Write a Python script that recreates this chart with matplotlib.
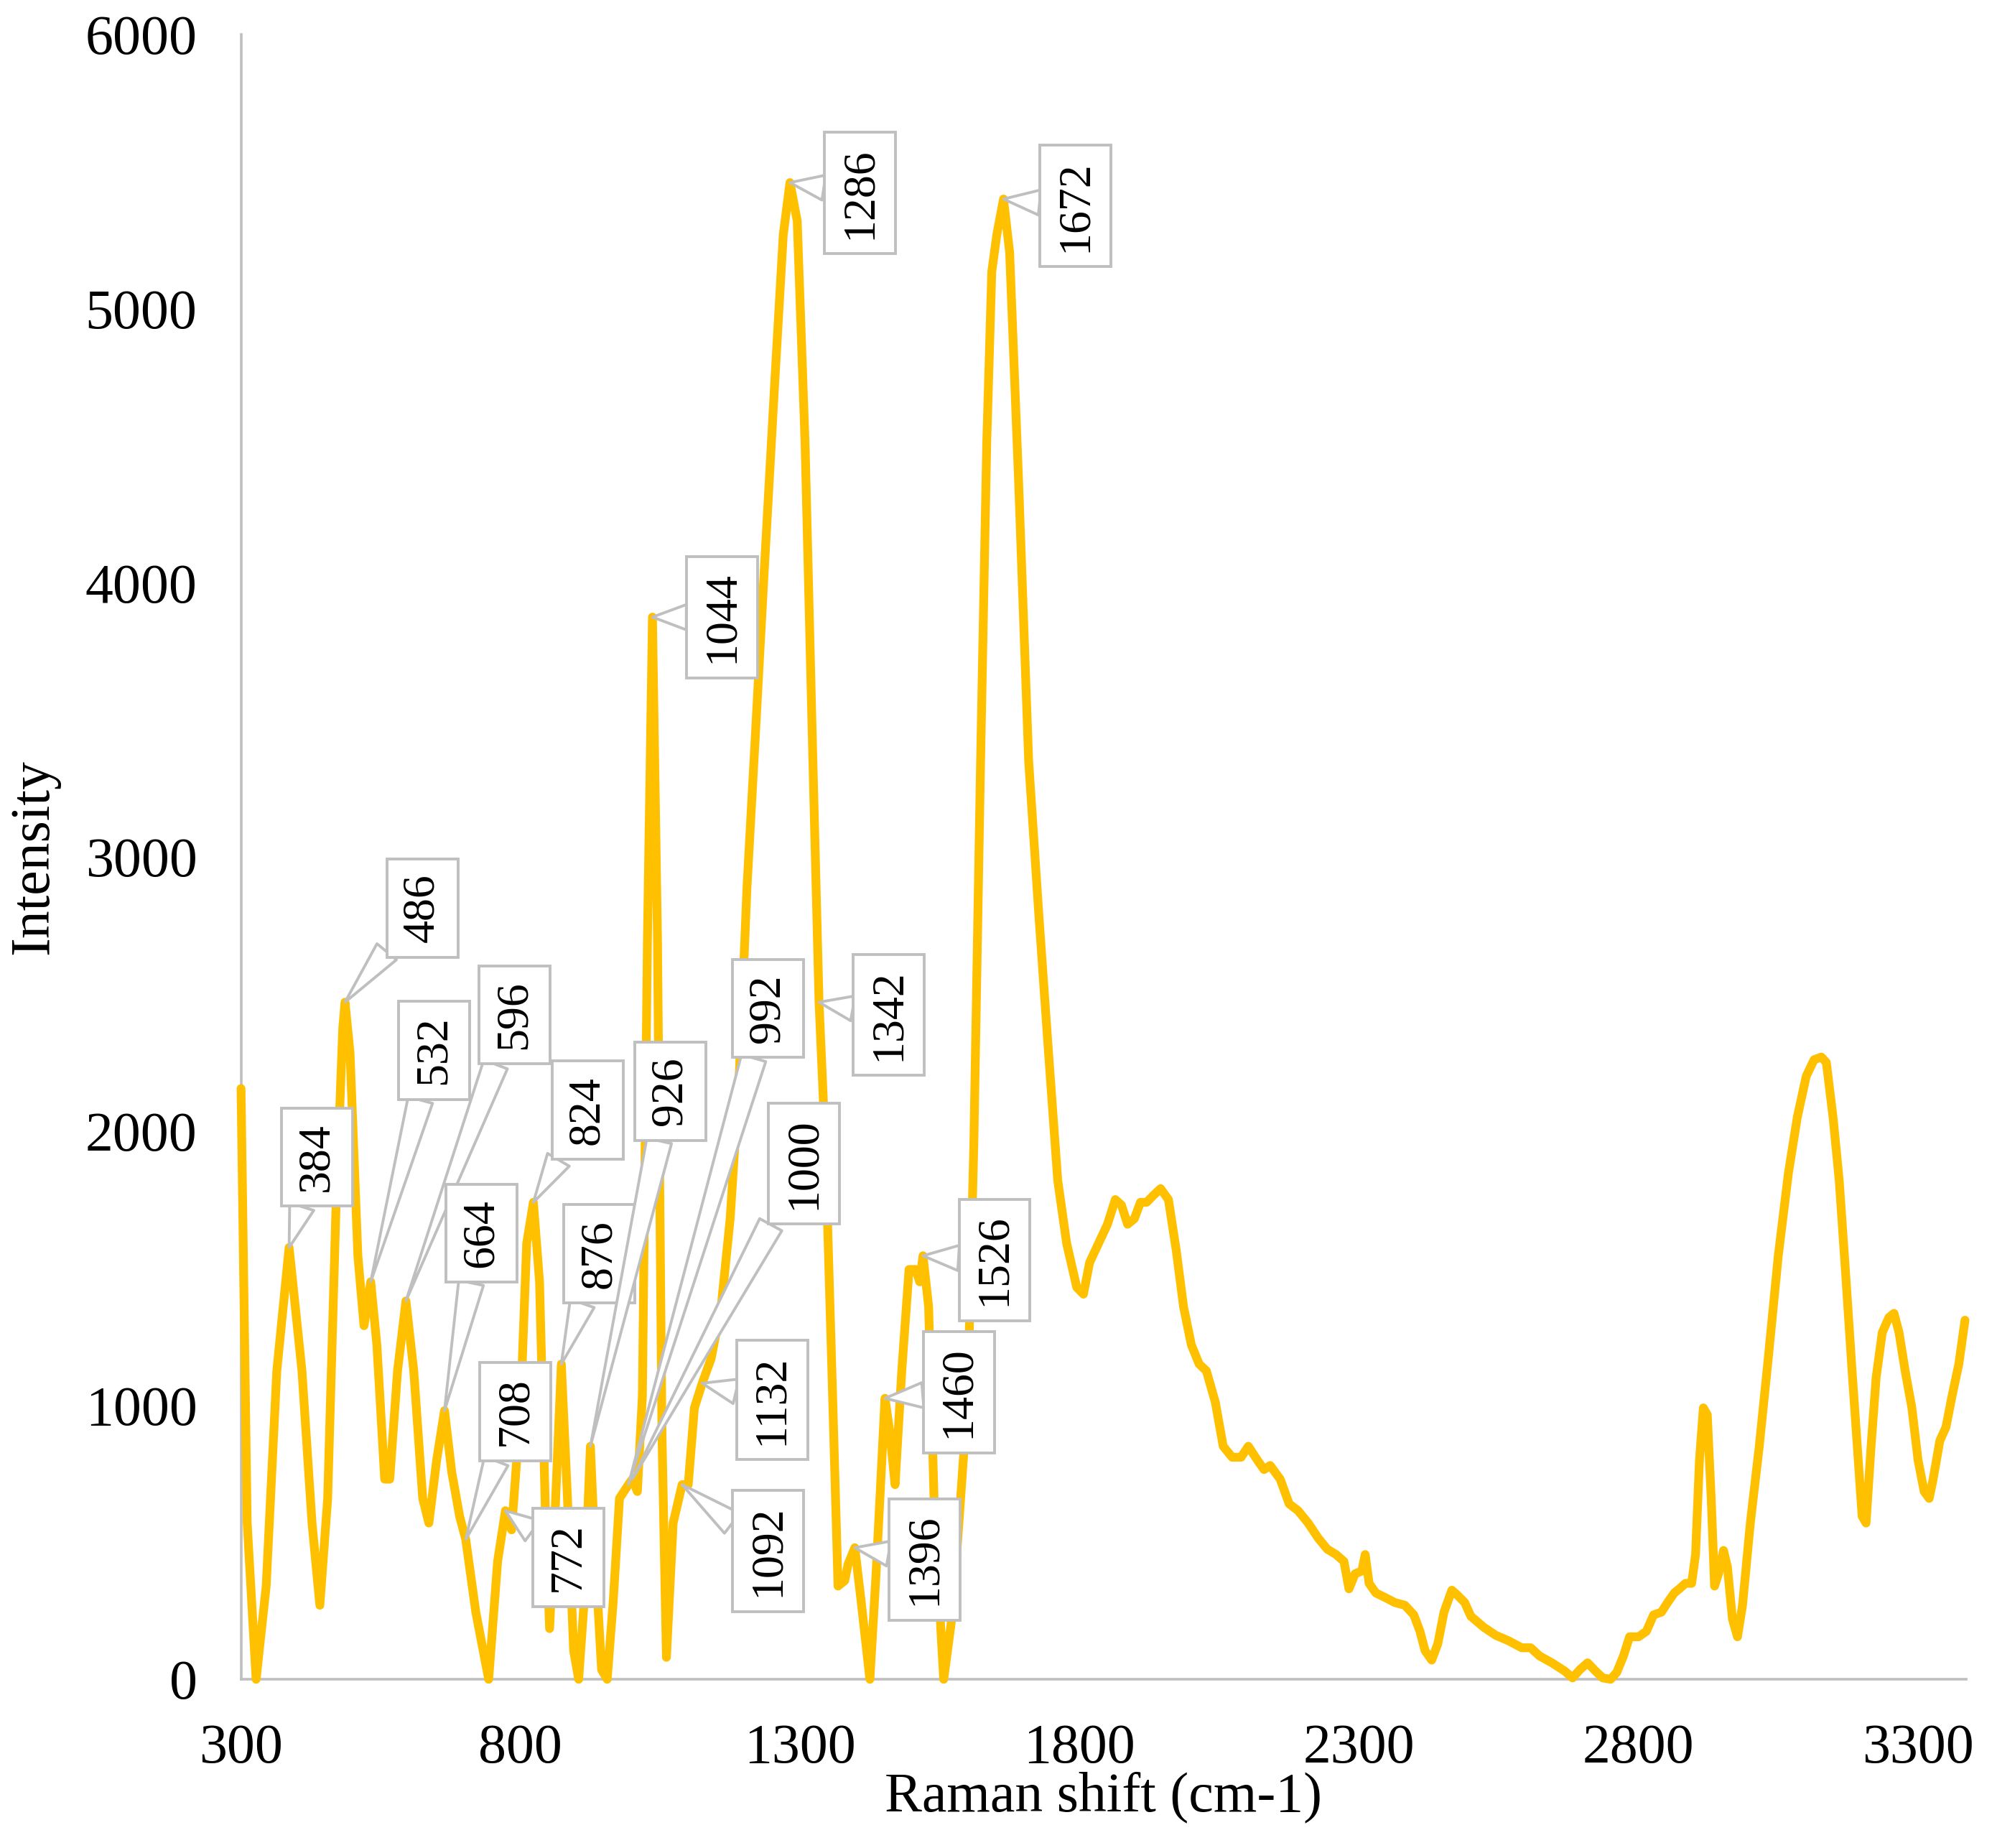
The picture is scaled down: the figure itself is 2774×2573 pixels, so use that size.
import matplotlib.pyplot as plt
import numpy as np

plt.rcParams['font.family'] = ['Liberation Serif', 'DejaVu Serif']

# Raman spectrum
shift = [300, 311, 327, 345, 364, 386, 409, 427, 441, 455, 470, 482, 486, 495, 509, 520, 532, 543, 557, 566,
         580, 595, 609, 625, 636, 650, 664, 677, 691, 702, 720, 743, 759, 773, 784, 800, 811, 823, 834, 845,
         852, 861, 873, 884, 895, 904, 914, 925, 934, 945, 955, 966, 977, 993, 1000, 1009, 1018, 1027, 1036, 1045,
         1053, 1061, 1073, 1089, 1100, 1111, 1125, 1141, 1159, 1175, 1191, 1205, 1220, 1236, 1255, 1270, 1282, 1295, 1309, 1323,
         1334, 1345, 1357, 1368, 1380, 1386, 1398, 1409, 1425, 1436, 1452, 1461, 1470, 1482, 1495, 1507, 1514, 1520, 1530, 1541,
         1557, 1573, 1589, 1600, 1611, 1623, 1634, 1643, 1652, 1664, 1675, 1691, 1709, 1727, 1743, 1761, 1777, 1795, 1807, 1818,
         1834, 1850, 1864, 1875, 1886, 1898, 1909, 1920, 1932, 1945, 1959, 1973, 1986, 2000, 2014, 2027, 2043, 2057, 2073, 2089,
         2102, 2118, 2130, 2141, 2159, 2175, 2191, 2209, 2227, 2243, 2259, 2273, 2282, 2293, 2305, 2311, 2318, 2330, 2345, 2364,
         2382, 2398, 2409, 2418, 2430, 2441, 2452, 2466, 2477, 2489, 2500, 2523, 2545, 2568, 2591, 2607, 2623, 2645, 2668, 2682,
         2695, 2709, 2723, 2736, 2750, 2761, 2773, 2784, 2800, 2814, 2827, 2841, 2852, 2864, 2873, 2884, 2895, 2902, 2909, 2916,
         2923, 2930, 2936, 2943, 2952, 2959, 2968, 2977, 2986, 3000, 3016, 3032, 3050, 3068, 3084, 3100, 3114, 3127, 3136, 3148,
         3159, 3170, 3182, 3193, 3200, 3207, 3216, 3225, 3236, 3248, 3257, 3266, 3277, 3289, 3300, 3311, 3320, 3327, 3339, 3350,
         3361, 3373, 3384]
intensity = [2155, 570, 0, 340, 1125, 1575, 1125, 570, 270, 660, 1730, 2375, 2470, 2285, 1545, 1290, 1450, 1220, 730, 730,
             1125, 1380, 1125, 660, 570, 800, 980, 755, 595, 510, 245, 0, 430, 615, 545, 990, 1590, 1740, 1450, 570,
             185, 570, 1150, 660, 105, 0, 290, 850, 430, 35, 0, 290, 660, 710, 730, 685, 1035, 2700, 3875, 2700,
             900, 80, 570, 710, 710, 990, 1080, 1170, 1360, 1680, 2190, 2885, 3440, 4045, 4740, 5270, 5460, 5320, 4510, 3350,
             2470, 1960, 1125, 340, 360, 420, 480, 290, 0, 385, 1025, 895, 710, 1125, 1495, 1495, 1450, 1545, 1360, 570,
             0, 245, 710, 1035, 1960, 3350, 4510, 5135, 5270, 5400, 5205, 4370, 3350, 2795, 2330, 1820, 1590, 1430, 1405, 1520,
             1590, 1660, 1750, 1730, 1660, 1680, 1740, 1740, 1765, 1790, 1750, 1565, 1360, 1220, 1150, 1125, 1010, 850, 810, 810,
             850, 800, 765, 780, 730, 640, 615, 570, 515, 475, 455, 430, 330, 385, 395, 455, 350, 315, 300, 280,
             270, 235, 175, 105, 70, 130, 245, 325, 305, 280, 230, 190, 160, 140, 115, 115, 85, 60, 30, 5,
             35, 60, 30, 5, 0, 25, 85, 155, 155, 175, 235, 245, 280, 315, 330, 350, 350, 455, 800, 990,
             965, 660, 340, 385, 470, 410, 220, 155, 270, 570, 850, 1170, 1545, 1845, 2050, 2200, 2260, 2270, 2250, 2050,
             1820, 1495, 1125, 800, 595, 570, 850, 1100, 1265, 1320, 1335, 1265, 1125, 990, 800, 685, 660, 730, 870, 920,
             1035, 1150, 1310]

# labelled peaks: text and where on the spectrum each callout points
peak_labels = ['384', '486', '532', '596', '664', '708', '772', '824', '876', '926', '992', '1000', '1044',
               '1092', '1132', '1286', '1342', '1396', '1460', '1526', '1672']
peak_x = [386, 486, 532, 595, 664, 702, 773, 823, 873, 925, 993, 1000, 1036,
          1089, 1125, 1282, 1334, 1398, 1452, 1520, 1664]
# callout box centres (layout)
box_xy = [(436, 1905), (625, 2813), (645, 2294), (789, 2424), (730, 1627), (791, 977), (886, 445), (920, 2076),
          (941, 1552), (1068, 2145), (1243, 2447), (1307, 1881), (1161, 3874), (1243, 468), (1250, 1019),
          (1407, 5422), (1459, 2424), (1523, 436), (1584, 1047), (1648, 1529), (1793, 5375)]

x_ticks = [300, 800, 1300, 1800, 2300, 2800, 3300]
y_ticks = [0, 1000, 2000, 3000, 4000, 5000, 6000]

fig = plt.figure(figsize=(13.87, 12.865), dpi=200)
ax = fig.add_axes([0.121, 0.0913, 0.866, 0.890])

ax.plot(shift, intensity, color='#FFC000', linewidth=4.4, solid_joinstyle='round',
        solid_capstyle='round', clip_on=False, zorder=3)

grey = '#BFBFBF'
for lab, px, (bx, by) in zip(peak_labels, peak_x, box_xy):
    py = np.interp(px, shift, intensity)
    ax.annotate(lab, xy=(px, py), xytext=(bx, by), textcoords='data',
                rotation=90, ha='center', va='center', fontsize=23, zorder=5,
                bbox=dict(boxstyle='square,pad=0.32', fc='white', ec=grey, lw=1.4),
                arrowprops=dict(arrowstyle='wedge,tail_width=0.55,shrink_factor=0.5',
                                fc='white', ec=grey, lw=1.4, shrinkA=0, shrinkB=0))

ax.set_xlim(300, 3386)
ax.set_ylim(0, 6000)
ax.set_xticks(x_ticks)
ax.set_yticks(y_ticks)
ax.tick_params(length=0, labelsize=28)
ax.tick_params(axis='x', pad=22)
ax.tick_params(axis='y', pad=22)

for side in ['top', 'right']:
    ax.spines[side].set_visible(False)
for side in ['left', 'bottom']:
    ax.spines[side].set_color(grey)
    ax.spines[side].set_linewidth(1.3)

ax.set_xlabel('Raman shift (cm-1)', fontsize=28)
ax.set_ylabel('Intensity', fontsize=28)
ax.xaxis.set_label_coords(0.5, -0.056)
ax.yaxis.set_label_coords(-0.105, 0.5)

fig.savefig('out.png', dpi=200)
